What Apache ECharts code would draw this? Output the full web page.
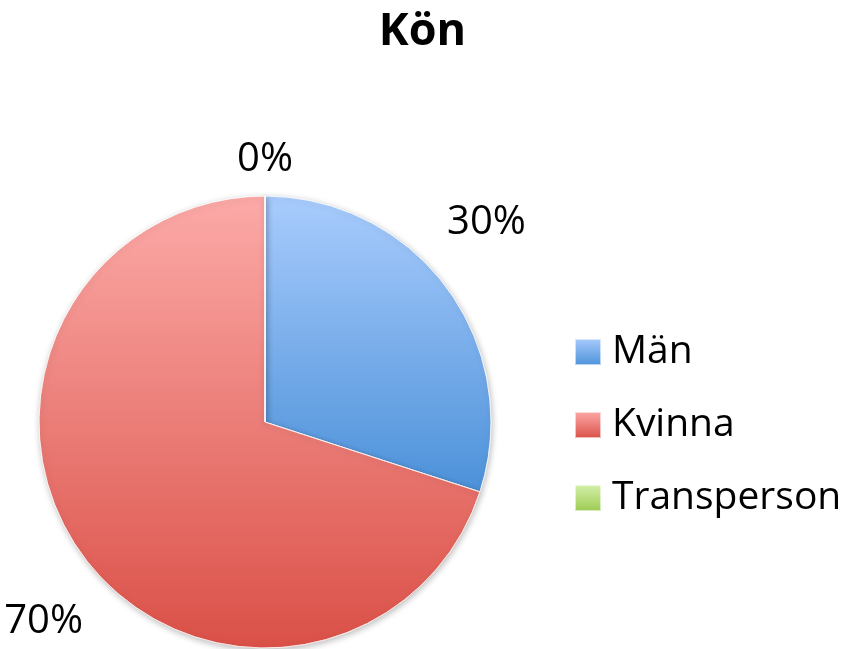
<!DOCTYPE html>
<html>
<head>
<meta charset="utf-8">
<script src="https://cdn.jsdelivr.net/npm/echarts@6/dist/echarts.min.js"></script>
<style>
  html, body { margin: 0; padding: 0; background: #fff; }
  #chart { width: 845px; height: 649px; }
</style>
</head>
<body>
<div id="chart"></div>
<script>
var categories = ['Män', 'Kvinna', 'Transperson'];
var values = [30, 70, 0];
var topColors = ['#a9ccfd', '#fcaaa8', '#d6f1ac'];
var bottomColors = ['#4c91d9', '#da5047', '#9cca52'];

var pieCenter = [265, 422];
var pieRadius = 226;

var chart = echarts.init(document.getElementById('chart'));

function grad(i) {
    return new echarts.graphic.LinearGradient(0, 0, 0, 1, [
        { offset: 0, color: topColors[i] },
        { offset: 1, color: bottomColors[i] }
    ]);
}

var pieData = categories.map(function (name, i) {
    return { name: name, value: values[i], itemStyle: { color: grad(i) } };
});

// mid angle of each slice (degrees clockwise from 12 o'clock)
var total = values.reduce(function (a, b) { return a + b; }, 0);
var midAngles = [];
var acc = 0;
values.forEach(function (v) {
    midAngles.push((acc + v / 2) / total * 360);
    acc += v;
});

// place labels outside the pie like the office chart does
function placeLabel(params) {
    var i = params.dataIndex;
    var empty = values[i] === 0;
    var a = (midAngles[i] - (empty ? 0 : 6)) * Math.PI / 180;
    var d = empty ? 262 : 298;
    return {
        x: pieCenter[0] + d * Math.sin(a),
        y: pieCenter[1] - d * Math.cos(a),
        align: 'center',
        verticalAlign: 'middle'
    };
}

var option = {
    backgroundColor: '#fff',
    title: {
        text: 'Kön',
        left: 'center',
        top: 5,
        textStyle: {
            fontFamily: 'Open Sans',
            fontWeight: 'bold',
            fontSize: 45,
            color: '#000'
        }
    },
    legend: {
        orient: 'vertical',
        left: 574,
        top: 329,
        padding: 0,
        icon: 'rect',
        itemWidth: 26,
        itemHeight: 26,
        itemGap: 27,
        data: categories,
        textStyle: {
            fontFamily: 'Open Sans',
            fontSize: 39,
            lineHeight: 46,
            color: '#000',
            padding: [0, 0, 0, 6]
        }
    },
    series: [{
        type: 'pie',
        center: pieCenter,
        radius: pieRadius,
        startAngle: 90,
        clockwise: true,
        avoidLabelOverlap: false,
        data: pieData,
        itemStyle: {
            borderColor: 'rgba(255,255,255,0.6)',
            borderWidth: 1,
            shadowBlur: 6,
            shadowColor: 'rgba(0,0,0,0.25)',
            shadowOffsetX: 1,
            shadowOffsetY: 2
        },
        label: {
            show: true,
            position: 'outside',
            formatter: function (p) { return p.value + '%'; },
            fontFamily: 'Open Sans',
            fontSize: 40,
            color: '#000'
        },
        labelLine: { show: false },
        labelLayout: placeLabel,
        emphasis: { disabled: true }
    }]
};

chart.setOption(option);
</script>
</body>
</html>
